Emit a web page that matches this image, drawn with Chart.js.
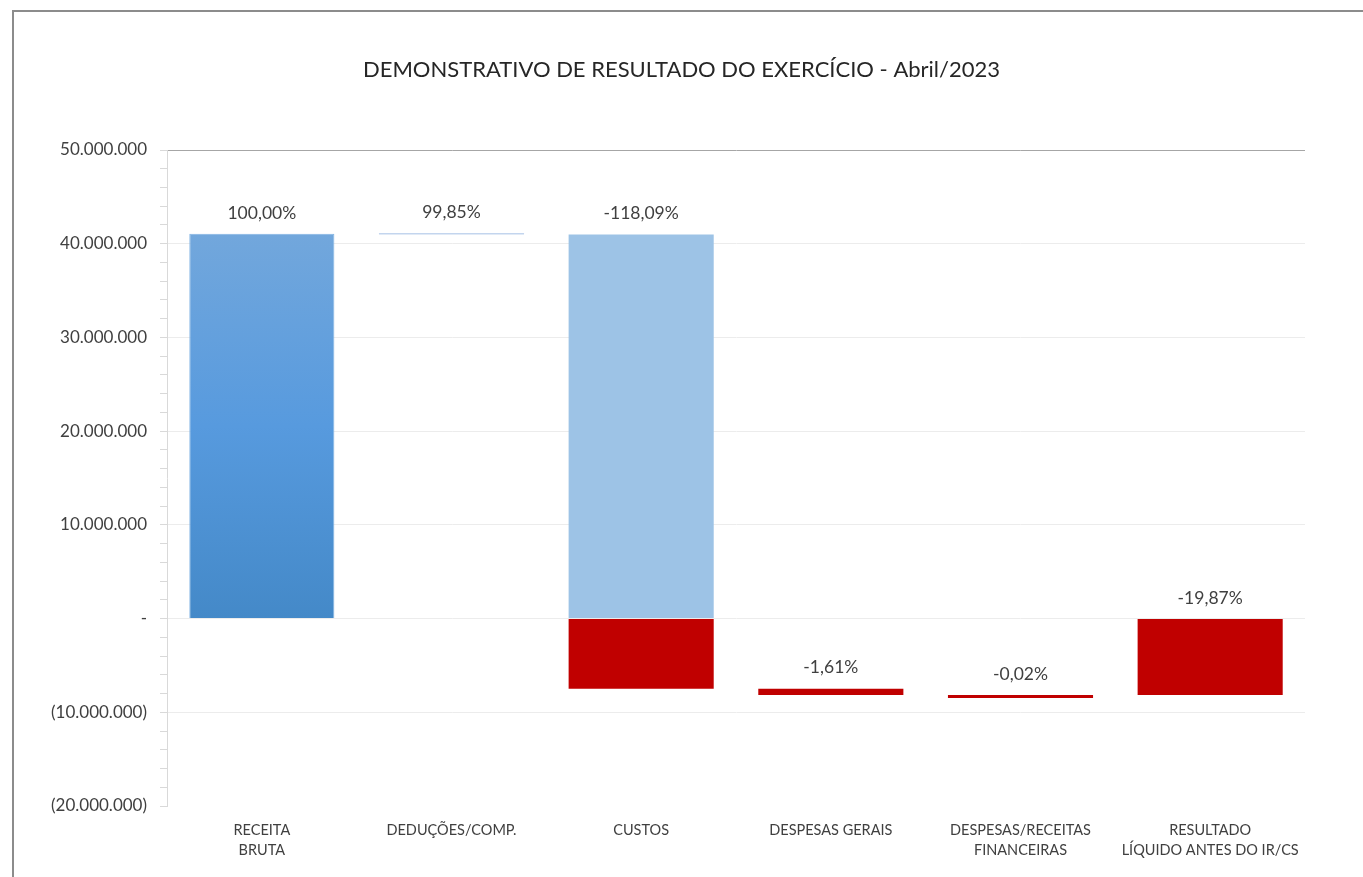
<!DOCTYPE html>
<html>
<head>
<meta charset="utf-8">
<script src="https://cdn.jsdelivr.net/npm/chart.js@4.4.0/dist/chart.umd.min.js"></script>
<style>
  body { margin: 0; background: #fff; overflow: hidden; }
  #wrap { position: relative; width: 1363px; height: 877px; }
  #frame { position: absolute; left: 12px; top: 10px; width: 1400px; height: 900px; border-left: 2px solid #8c8c8c; border-top: 2px solid #8c8c8c; }
  canvas { position: absolute; left: 0; top: 0; }
</style>
</head>
<body>
<div id="wrap">
  <div id="frame"></div>
  <canvas id="dreChart" width="1363" height="877"></canvas>
</div>
<script>
// categorias e valores (R$)
var categories = [
    ['RECEITA', 'BRUTA'],
    'DEDUÇÕES/COMP.',
    'CUSTOS',
    'DESPESAS GERAIS',
    ['DESPESAS/RECEITAS', 'FINANCEIRAS'],
    ['RESULTADO', 'LÍQUIDO ANTES DO IR/CS']
];
var pctLabels = ['100,00%', '99,85%', '-118,09%', '-1,61%', '-0,02%', '-19,87%'];
var titulo = 'DEMONSTRATIVO DE RESULTADO DO EXERCÍCIO - Abril/2023';

var receitaBar = [[0, 41050000], null, null, null, null, null];
var deducoesBar = [null, [40990000, 41050000], null, null, null, null];
var custosPositivo = [null, null, [0, 40990000], null, null, null];
var negativos = [null, null, [0, -7490000], [-7490000, -8150000], [-8150000, -8160000], [0, -8160000]];

var yMin = -20000000;
var yMax = 50000000;

function fmt(v){
    if (v === 0) return '-';
    var s = Math.abs(v).toString().replace(/\B(?=(\d{3})+(?!\d))/g, '.');
    return v < 0 ? '(' + s + ')' : s;
}

// gradiente da barra de receita
function receitaColor(ctx){
    var chart = ctx.chart;
    if (!chart.chartArea || !ctx.raw) return '#5b9bd5';
    var y = chart.scales.y;
    var g = chart.ctx.createLinearGradient(0, y.getPixelForValue(ctx.raw[1]), 0, y.getPixelForValue(0));
    g.addColorStop(0, '#72a7dc');
    g.addColorStop(0.5, '#579ade');
    g.addColorStop(1, '#4489c8');
    return g;
}

// titulo centralizado no canvas inteiro (o plugin title centraliza so dentro do padding)
var tituloPlugin = {
    id: 'tituloCentro',
    afterDraw: function(chart){
        var ctx = chart.ctx;
        ctx.save();
        ctx.font = '22px Lato';
        ctx.fillStyle = '#262626';
        ctx.textAlign = 'center';
        ctx.textBaseline = 'middle';
        ctx.fillText(titulo, chart.width / 2, 70);
        ctx.restore();
    }
};

// rotulos de percentual acima de cada coluna
var pctPlugin = {
    id: 'pctLabels',
    afterDatasetsDraw: function(chart){
        var ctx = chart.ctx;
        ctx.save();
        ctx.font = '17.5px Lato';
        ctx.fillStyle = '#404040';
        ctx.textAlign = 'center';
        ctx.textBaseline = 'middle';
        for (var i = 0; i < categories.length; i++){
            var top = null, x = null;
            chart.data.datasets.forEach(function(ds, d){
                if (ds.data[i] == null) return;
                var el = chart.getDatasetMeta(d).data[i];
                var t = Math.min(el.y, el.base);
                if (top === null || t < top) top = t;
                x = el.x;
            });
            if (top !== null) ctx.fillText(pctLabels[i], x, top - 21);
        }
        ctx.restore();
    }
};

var config = {
    type: 'bar',
    data: {
        labels: categories,
        datasets: [
            { data: receitaBar, backgroundColor: receitaColor, borderColor: '#80b3e3', borderWidth: 1 },
            { data: deducoesBar, backgroundColor: '#c3d5ee', minBarLength: 1.5 },
            { data: custosPositivo, backgroundColor: '#9dc3e6' },
            { data: negativos, backgroundColor: '#c00000', minBarLength: 3 }
        ]
    },
    options: {
        responsive: false,
        animation: false,
        layout: { padding: { left: 0, right: 58, top: 150, bottom: 0 } },
        datasets: { bar: { grouped: false, categoryPercentage: 1, barPercentage: 0.765 } },
        plugins: {
            legend: { display: false },
            tooltip: { enabled: false },
            title: { display: false }
        },
        scales: {
            x: {
                grid: { display: false },
                border: { display: false },
                ticks: {
                    color: '#404040',
                    font: { family: 'Lato', size: 14.5, lineHeight: 1.38 },
                    padding: 6,
                    maxRotation: 0,
                    autoSkip: false
                },
                afterFit: function(scale){ scale.height = 71; }
            },
            y: {
                min: yMin,
                max: yMax,
                border: { color: '#d9d9d9' },
                grid: {
                    tickLength: 7,
                    color: function(ctx){
                        var v = ctx.tick.value;
                        if (v === yMax) return '#a6a6a6';
                        if (v === yMin) return 'rgba(0,0,0,0)';
                        return v % 10000000 === 0 ? '#ececec' : 'rgba(0,0,0,0)';
                    },
                    tickColor: '#d9d9d9'
                },
                ticks: {
                    stepSize: 2000000,
                    autoSkip: false,
                    padding: 13,
                    color: '#404040',
                    font: { family: 'Lato', size: 17 },
                    callback: function(v){ return v % 10000000 === 0 ? fmt(v) : ''; }
                },
                afterFit: function(scale){ scale.width = 167; }
            }
        }
    },
    plugins: [pctPlugin, tituloPlugin]
};

const dreChart = new Chart(document.getElementById('dreChart'), config);
</script>
</body>
</html>
